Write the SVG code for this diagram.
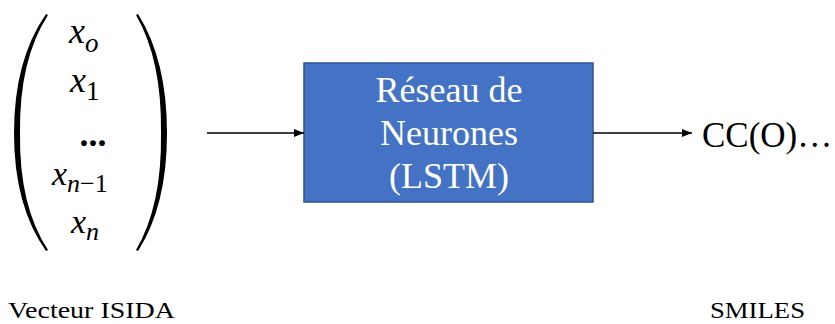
<svg xmlns="http://www.w3.org/2000/svg" width="835" height="324" viewBox="0 0 835 324">
<style>
.c{stroke:#000;stroke-width:1.5;fill:none}
</style>
<defs>
<marker id="ah" markerWidth="10" markerHeight="8" refX="10" refY="4" orient="auto" markerUnits="userSpaceOnUse">
<path d="M0,0 L10,4 L0,8 Z" fill="#000"/>
</marker>
</defs>
<g id="vector" font-family="Liberation Serif, Tinos, DejaVu Serif, serif" font-style="italic" fill="#000">
<path d="M48,15 Q19,60 20,133 Q19,206 48,250 L46,251 Q14,206 14,133 Q14,60 46,14 Z"/>
<path d="M136,15 Q162,60 161,133 Q162,206 136,250 L138,251 Q167,206 167,133 Q167,60 138,14 Z"/>
<text x="69" y="43" font-size="36">x<tspan font-size="27" dy="9">o</tspan></text>
<text x="70" y="92" font-size="36">x<tspan font-size="27" dy="8" font-style="normal">1</tspan></text>
<text x="93" y="146" font-size="36" font-weight="bold" font-style="normal" text-anchor="middle">...</text>
<text x="52" y="185" font-size="34">x<tspan font-size="26" dy="7">n</tspan><tspan font-size="26" font-style="normal">−1</tspan></text>
<text x="71" y="233" font-size="34">x<tspan font-size="26" dy="7">n</tspan></text>
</g>
<g id="lstm" font-family="Liberation Serif, Tinos, DejaVu Serif, serif" font-size="36" text-anchor="middle" fill="#fff">
<rect x="304" y="63" width="289" height="139" fill="#4472C4" stroke="#2F528F" stroke-width="1.5"/>
<text x="449" y="102">Réseau de</text>
<text x="449" y="145">Neurones</text>
<text x="449" y="188">(LSTM)</text>
</g>
<g id="smiles" font-family="Liberation Serif, Tinos, DejaVu Serif, serif">
<text x="702" y="147" font-size="35">CC(O)…</text>
</g>
<g id="labels" font-family="Liberation Serif, Tinos, DejaVu Serif, serif" font-size="23">
<text x="8" y="318" textLength="167" lengthAdjust="spacingAndGlyphs">Vecteur ISIDA</text>
<text x="710" y="318" textLength="95" lengthAdjust="spacingAndGlyphs">SMILES</text>
</g>
<g id="connectors">
<line class="c" x1="207" y1="133" x2="304" y2="133" marker-end="url(#ah)"/>
<line class="c" x1="593" y1="133" x2="692" y2="133" marker-end="url(#ah)"/>
</g>
</svg>
